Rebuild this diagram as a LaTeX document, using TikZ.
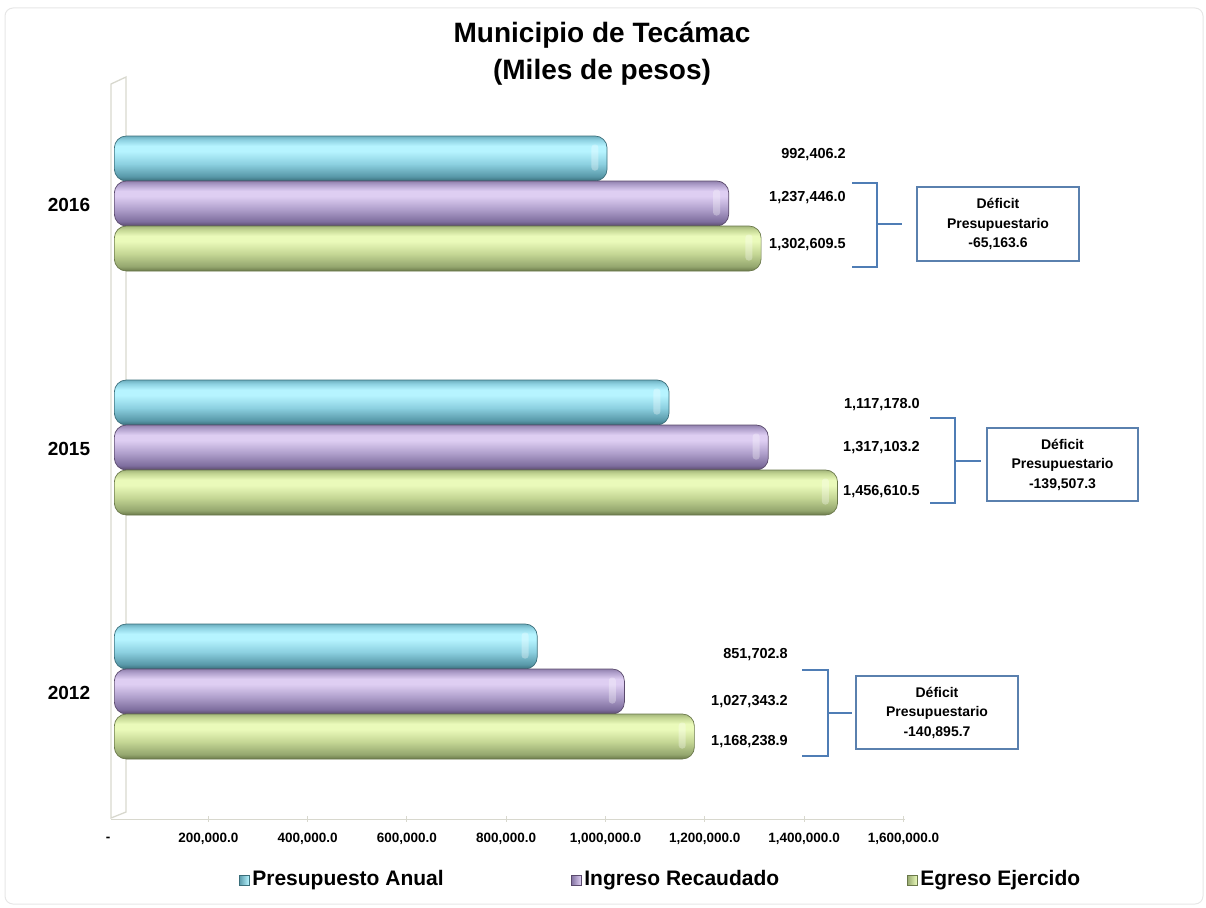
\documentclass[tikz,border=0pt]{standalone}
\usepackage{fontspec}
\setmainfont{Liberation Sans}
\usepackage{xcolor}
\usepackage{tikz}
\usetikzlibrary{positioning}

\definecolor{cyanD2}{HTML}{3A6E7A}
\definecolor{cyanD}{HTML}{5898A8}
\definecolor{cyanM}{HTML}{8CD0E0}
\definecolor{cyanL}{HTML}{B6F4FF}
\definecolor{cyanT}{HTML}{6CAEBE}
\definecolor{purpD2}{HTML}{5A4A6C}
\definecolor{purpD}{HTML}{7E6E9E}
\definecolor{purpM}{HTML}{B0A0CC}
\definecolor{purpL}{HTML}{DECEF2}
\definecolor{purpT}{HTML}{9282AE}
\definecolor{grnD2}{HTML}{6A784A}
\definecolor{grnD}{HTML}{94A66E}
\definecolor{grnM}{HTML}{C4D694}
\definecolor{grnL}{HTML}{EAFABA}
\definecolor{grnT}{HTML}{A4B67C}
\definecolor{bracketblue}{HTML}{4F7DB5}
\definecolor{boxblue}{HTML}{5A80AE}
\definecolor{wallgray}{HTML}{D8D8CE}
\definecolor{framegray}{HTML}{E6E6E6}

\pgfdeclareverticalshading{cyancyl}{100bp}{color(0bp)=(cyanD2); color(25bp)=(cyanD2); color(30bp)=(cyanD); color(44bp)=(cyanM); color(58bp)=(cyanL); color(64bp)=(cyanL); color(71bp)=(cyanM); color(75bp)=(cyanT); color(100bp)=(cyanT)}
\pgfdeclareverticalshading{purpcyl}{100bp}{color(0bp)=(purpD2); color(25bp)=(purpD2); color(30bp)=(purpD); color(44bp)=(purpM); color(58bp)=(purpL); color(64bp)=(purpL); color(71bp)=(purpM); color(75bp)=(purpT); color(100bp)=(purpT)}
\pgfdeclareverticalshading{grncyl}{100bp}{color(0bp)=(grnD2); color(25bp)=(grnD2); color(30bp)=(grnD); color(44bp)=(grnM); color(58bp)=(grnL); color(64bp)=(grnL); color(71bp)=(grnM); color(75bp)=(grnT); color(100bp)=(grnT)}

\begin{document}
\begin{tikzpicture}
[x=1pt, y=-1pt,
    every node/.style={inner sep=0pt, text=black},
    titlelabel/.style={font=\bfseries\fontsize{28}{34}\selectfont},
    yearlabel/.style={font=\bfseries\fontsize{19}{22}\selectfont},
    valuelabel/.style={anchor=east, font=\bfseries\fontsize{14.5}{17}\selectfont},
    ticklabel/.style={font=\bfseries\fontsize{13.5}{16}\selectfont},
    legendtext/.style={anchor=west, font=\bfseries\fontsize{21}{25}\selectfont},
    legendsq/.style={minimum size=10pt, line width=0.3pt},
    cylbar/.style={rectangle, rounded corners=12pt, minimum height=45pt,
        anchor=west, shade, line width=0.7pt},
    capglow/.style={fill=white, fill opacity=0.3, rounded corners=3pt},
    bracket/.style={draw=bracketblue, line width=2.2pt},
    deficitbox/.style={draw=boxblue, line width=1.3pt, align=center,
        font=\bfseries\fontsize{14}{19.5}\selectfont,
        minimum width=162pt, minimum height=74pt},
    wallline/.style={draw=wallgray, line width=1.3pt},
    axisline/.style={draw=wallgray, line width=1pt}
    ]

    \useasboundingbox (0,0) rectangle (1206,907);
    \draw[framegray, line width=1pt, rounded corners=8pt] (5,8) rectangle (1203,904);

    \node[titlelabel] (title) at (602,35) {Municipio de Tecámac};
    \node[titlelabel] (subtitle) at (602,72) {(Miles de pesos)};

    % wall and axis
    \draw[wallline] (111,818) -- (111,84) -- (126,77) -- (126,812) -- cycle;
    \draw[axisline] (111,819) -- (905,819);
    \node[ticklabel] (t0) at (108,839) {-};
    \foreach \k/\lab in {1/{200,000.0},2/{400,000.0},3/{600,000.0},4/{800,000.0},
        5/{1,000,000.0},6/{1,200,000.0},7/{1,400,000.0},8/{1,600,000.0}}{
        \draw[axisline] (109+\k*99.3,816) -- (109+\k*99.3,822);
        \node[ticklabel] (t\k) at (109+\k*99.3,839) {\lab};
    }

    % bars
    \foreach \yr/\top/\p/\i/\e in {2016/136/992.4062/1237.446/1302.6095,
        2015/380/1117.178/1317.1032/1456.6105,
        2012/624/851.7028/1027.3432/1168.2389}{
        \node[yearlabel] (y\yr) at (69,\top+69) {\yr};
        \node[cylbar, shading=cyancyl, draw=cyanD2, minimum width=\p*0.4965] (p\yr) at (114,\top+22.5) {};
        \node[cylbar, shading=purpcyl, draw=purpD2, minimum width=\i*0.4965] (i\yr) at (114,\top+67.5) {};
        \node[cylbar, shading=grncyl, draw=grnD2, minimum width=\e*0.4965] (e\yr) at (114,\top+112.5) {};
        \foreach \b in {p,i,e}
            \fill[capglow] ([xshift=-16pt,yshift=-12pt]\b\yr.east) rectangle ([xshift=-9pt,yshift=14pt]\b\yr.east);
    }

    % 2016
    \node[valuelabel] (vp16) at (846,155) {992,406.2};
    \node[valuelabel] (vi16) at (846,198) {1,237,446.0};
    \node[valuelabel] (ve16) at (846,245) {1,302,609.5};
    \node[deficitbox] (box16) at (998,224) {Déficit\\Presupuestario\\-65,163.6};
    \coordinate (br16) at (877,224);
    \draw[bracket] (852,183) -| (877,267) -- (852,267);
    \draw[bracket] (br16) -- ([xshift=-14pt]box16.west |- br16);

    % 2015
    \node[valuelabel] (vp15) at (920,405) {1,117,178.0};
    \node[valuelabel] (vi15) at (920,448) {1,317,103.2};
    \node[valuelabel] (ve15) at (920,492) {1,456,610.5};
    \node[deficitbox, minimum width=151pt, minimum height=73pt] (box15) at (1062.5,464.5) {Déficit\\Presupuestario\\-139,507.3};
    \coordinate (br15) at (955,461);
    \draw[bracket] (930,418) -| (955,503) -- (930,503);
    \draw[bracket] (br15) -- ([xshift=-5pt]box15.west |- br15);

    % 2012
    \node[valuelabel] (vp12) at (788,655) {851,702.8};
    \node[valuelabel] (vi12) at (788,702) {1,027,343.2};
    \node[valuelabel] (ve12) at (788,742) {1,168,238.9};
    \node[deficitbox, minimum height=73pt] (box12) at (937,712.5) {Déficit\\Presupuestario\\-140,895.7};
    \coordinate (br12) at (828,713);
    \draw[bracket] (802,670) -| (828,756) -- (802,756);
    \draw[bracket] (br12) -- ([xshift=-3pt]box12.west |- br12);

    % legend
    \node[legendsq, left color=cyanD, right color=cyanL, draw=cyanD2] (lp) at (244,880) {};
    \node[legendtext, right=3pt of lp] (lpt) {Presupuesto Anual};
    \node[legendsq, left color=purpD, right color=purpL, draw=purpD2] (li) at (576,880) {};
    \node[legendtext, right=3pt of li] (lit) {Ingreso Recaudado};
    \node[legendsq, left color=grnD, right color=grnL, draw=grnD2] (le) at (912,880) {};
    \node[legendtext, right=3pt of le] (let) {Egreso Ejercido};
\end{tikzpicture}
\end{document}
